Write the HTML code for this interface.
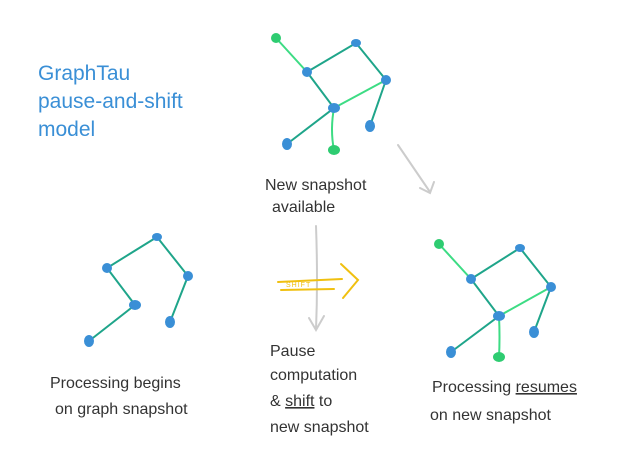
<!DOCTYPE html>
<html><head><style>
body{margin:0;width:622px;height:454px;background:#fff;overflow:hidden}
svg{position:absolute;left:0;top:0}
text{font-family:"Liberation Sans",sans-serif}
.c{fill:#333;font-size:16px}
.t{fill:#3a8fd6;font-size:21px}
</style></head><body>
<svg width="622" height="454" viewBox="0 0 622 454">
<g stroke-width="2" fill="none" stroke-linecap="round">
<!-- graph 1 -->
<path d="M276 38 L307 72" stroke="#3ddc84"/>
<path d="M307 72 L356 43 L386 80 L370 126 M307 72 L334 108 L287 144" stroke="#1fa58a"/>
<path d="M334 108 L386 80 M334 108 Q330 130 334 150" stroke="#3ddc84"/>
<!-- graph 2 -->
<path d="M157 237 L107 268 L135 305 L89 341 M157 237 L188 276 L170 322" stroke="#1fa58a"/>
<!-- graph 3 -->
<path d="M439 244 L471 279" stroke="#3ddc84"/>
<path d="M471 279 L520 248 L551 287 L534 332 M471 279 L499 316 L451 352" stroke="#1fa58a"/>
<path d="M499 316 L551 287 M499 316 Q500 338 499 357" stroke="#3ddc84"/>
<!-- arrows -->
<path d="M398 145 L430 192 M420 188 L430 193 L434 182" stroke="#ccc"/>
<path d="M316 226 Q318 280 316 330 M309 318 L316 330 L324 316" stroke="#ccc"/>
<path d="M278 282 L342 279 M281 290 L334 289 M341 264 L358 280 L343 298" stroke="#f0c010"/>
</g>
<g fill="#3a8fd6">
<ellipse cx="276" cy="38" rx="5" ry="5" fill="#2ecc71"/>
<ellipse cx="307" cy="72" rx="5" ry="5"/><ellipse cx="356" cy="43" rx="5" ry="4"/>
<ellipse cx="386" cy="80" rx="5" ry="5"/><ellipse cx="334" cy="108" rx="6" ry="5"/>
<ellipse cx="370" cy="126" rx="5" ry="6"/><ellipse cx="287" cy="144" rx="5" ry="6"/>
<ellipse cx="334" cy="150" rx="6" ry="5" fill="#2ecc71"/>
<ellipse cx="157" cy="237" rx="5" ry="4"/><ellipse cx="107" cy="268" rx="5" ry="5"/>
<ellipse cx="188" cy="276" rx="5" ry="5"/><ellipse cx="135" cy="305" rx="6" ry="5"/>
<ellipse cx="170" cy="322" rx="5" ry="6"/><ellipse cx="89" cy="341" rx="5" ry="6"/>
<ellipse cx="439" cy="244" rx="5" ry="5" fill="#2ecc71"/>
<ellipse cx="471" cy="279" rx="5" ry="5"/><ellipse cx="520" cy="248" rx="5" ry="4"/>
<ellipse cx="551" cy="287" rx="5" ry="5"/><ellipse cx="499" cy="316" rx="6" ry="5"/>
<ellipse cx="534" cy="332" rx="5" ry="6"/><ellipse cx="451" cy="352" rx="5" ry="6"/>
<ellipse cx="499" cy="357" rx="6" ry="5" fill="#2ecc71"/>
</g>
<text x="286" y="287" font-size="7" fill="#f0c010" letter-spacing="1">SHIFT</text>
<text class="t" x="38" y="80">GraphTau</text>
<text class="t" x="38" y="108">pause-and-shift</text>
<text class="t" x="38" y="136">model</text>
<text class="c" x="265" y="190">New snapshot</text>
<text class="c" x="272" y="212">available</text>
<text class="c" x="50" y="388">Processing begins</text>
<text class="c" x="55" y="414">on graph snapshot</text>
<text class="c" x="270" y="356">Pause</text>
<text class="c" x="270" y="380">computation</text>
<text class="c" x="270" y="406">&amp; <tspan text-decoration="underline">shift</tspan> to</text>
<text class="c" x="270" y="432">new snapshot</text>
<text class="c" x="432" y="392">Processing <tspan text-decoration="underline">resumes</tspan></text>
<text class="c" x="430" y="420">on new snapshot</text>
</svg>
</body></html>
